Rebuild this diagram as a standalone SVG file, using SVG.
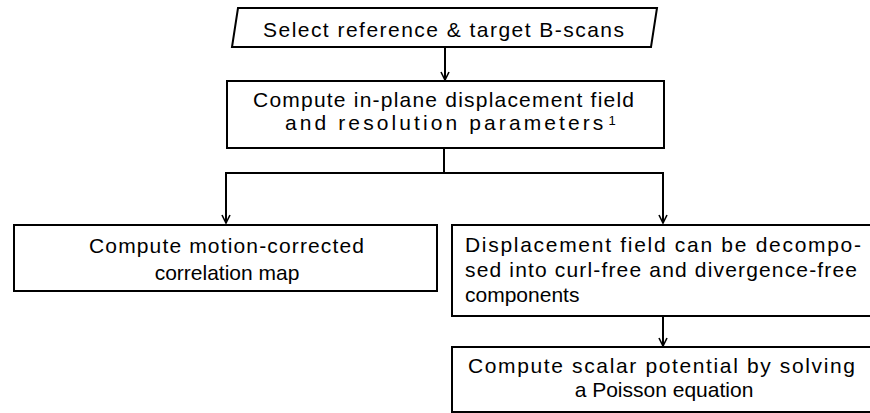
<svg xmlns="http://www.w3.org/2000/svg" width="870" height="413" viewBox="0 0 870 413">
<style>
.box{fill:#fff;stroke:#000;stroke-width:2}
.ln{fill:none;stroke:#000;stroke-width:2}
text{font-family:"Liberation Sans",Arial,sans-serif;font-size:21px;fill:#000}
</style>
<defs>
<marker id="arr" viewBox="0 0 10 10" refX="9" refY="5" markerWidth="10" markerHeight="10" markerUnits="userSpaceOnUse" orient="auto">
<path d="M1,1 L9,5 L1,9" fill="none" stroke="#000" stroke-width="1.6"/>
</marker>
</defs>
<rect width="870" height="413" fill="#fff"/>
<g id="connectors">
<line class="ln" x1="445" y1="47" x2="445" y2="80" marker-end="url(#arr)"/>
<polyline class="ln" points="444,148 444,173"/>
<polyline class="ln" points="226,223 226,173 663,173 663,223" marker-end="url(#arr)"/>
<line class="ln" x1="226" y1="173" x2="226" y2="223" marker-end="url(#arr)"/>
<line class="ln" x1="663" y1="316" x2="663" y2="346" marker-end="url(#arr)"/>
</g>
<g id="select">
<polygon class="box" points="238,8 657,8 651,47 232,47"/>
<text x="263" y="37" textLength="361" lengthAdjust="spacing">Select reference &amp; target B-scans</text>
</g>
<g id="displacement">
<rect class="box" x="227" y="81" width="437" height="67"/>
<text x="253" y="107" textLength="381" lengthAdjust="spacing">Compute in-plane displacement field</text>
<text x="285" y="130" letter-spacing="3.1">and resolution parameters<tspan font-size="13" dx="2" dy="-5" letter-spacing="0">1</tspan></text>
</g>
<g id="correlation">
<rect class="box" x="14" y="225" width="423" height="66"/>
<text x="89" y="253" textLength="275" lengthAdjust="spacing">Compute motion-corrected</text>
<text x="227" y="280" text-anchor="middle">correlation map</text>
</g>
<g id="decompose">
<rect class="box" x="452" y="225" width="425" height="91"/>
<text x="465" y="252" textLength="396" lengthAdjust="spacing">Displacement field can be decompo-</text>
<text x="465" y="277" textLength="392" lengthAdjust="spacing">sed into curl-free and divergence-free</text>
<text x="465" y="302">components</text>
</g>
<g id="poisson">
<rect class="box" x="452" y="347" width="425" height="65"/>
<text x="468" y="373" textLength="387" lengthAdjust="spacing">Compute scalar potential by solving</text>
<text x="664" y="397" text-anchor="middle">a Poisson equation</text>
</g>
</svg>
